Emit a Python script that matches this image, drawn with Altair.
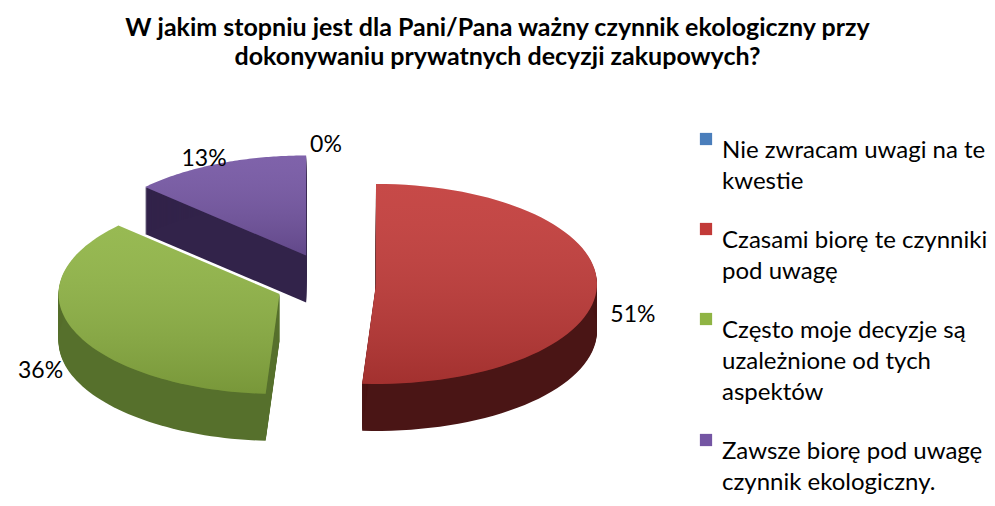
import altair as alt
import pandas as pd

title_lines = ["W jakim stopniu jest dla Pani/Pana ważny czynnik ekologiczny przy",
               "dokonywaniu prywatnych decyzji zakupowych?"]
categories = ["Nie zwracam uwagi na te kwestie",
              "Czasami biorę te czynniki pod uwagę",
              "Często moje decyzje są uzależnione od tych aspektów",
              "Zawsze biorę pod uwagę czynnik ekologiczny."]
legend_lines = [["Nie zwracam uwagi na te", "kwestie"],
                ["Czasami biorę te czynniki", "pod uwagę"],
                ["Często moje decyzje są", "uzależnione od tych", "aspektów"],
                ["Zawsze biorę pod uwagę", "czynnik ekologiczny."]]
values = [0, 51, 36, 13]
top_colors = ["#4A7EBB", "#C23A38", "#8FB444", "#7455A3"]
side_colors = ["#22405F", "#4A1515", "#56702C", "#32234A"]

df = pd.DataFrame({"cat": categories, "value": values, "idx": list(range(len(values)))})

# geometry (view pixels)
OY = 72                      # view top on the page (approx.)
OX = 8
CX, CY = 326 - OX, 279 - OY  # pie centre
RX, RY = 221, 100            # ellipse radii of the top face
EX, EY = 50, 30              # explode distance
DEPTH = 47                   # 3D thickness
N = 72                       # arc segments
LX, LY, LYOFF = 36, 35, 27   # label offsets


def lbl_expr():
    parts = []
    for c, lines in zip(categories, legend_lines):
        arr = "[" + ",".join("'" + l + "'" for l in lines) + "]"
        parts.append(f"datum.value == '{c}' ? {arr}")
    return " : ".join(parts) + " : datum.value"


base = alt.Chart(df).transform_joinaggregate(
    total="sum(value)"
).transform_window(
    cum="sum(value)", frame=[None, 0], sort=[alt.SortField("idx")]
).transform_calculate(
    t0="(datum.cum - datum.value) / datum.total * 2 * PI",
    t1="datum.cum / datum.total * 2 * PI",
).transform_calculate(
    mid="(datum.t0 + datum.t1) / 2",
).transform_calculate(
    ax=f"{CX} + {EX} * sin(datum.mid)",
    ay=f"{CY} - {EY} * cos(datum.mid)",
    pct="format(datum.value / datum.total, '.0%')",
)

poly = base.transform_filter("datum.value > 0").transform_calculate(
    k=f"sequence(0, {N + 2})"
).transform_flatten(["k"]).transform_calculate(
    ang=f"datum.t0 + (datum.k - 1) / {N} * (datum.t1 - datum.t0)",
).transform_calculate(
    px=f"datum.k == 0 ? datum.ax : datum.ax + {RX} * sin(datum.ang)",
    py=f"datum.k == 0 ? datum.ay : datum.ay - {RY} * cos(datum.ang)",
)

side = poly.transform_calculate(
    d=f"sequence(1, {DEPTH + 1})"
).transform_flatten(["d"]).transform_calculate(
    pyd="datum.py + datum.d"
).mark_line(filled=True, strokeWidth=0).encode(
    x=alt.X("px:Q", scale=None, axis=None),
    y=alt.Y("pyd:Q", scale=None, axis=None),
    order=alt.Order("k:Q"),
    detail=alt.Detail("d:Q"),
    color=alt.Color("cat:N", scale=alt.Scale(domain=categories, range=side_colors), legend=None),
)

top = poly.mark_line(filled=True, strokeWidth=0).encode(
    x=alt.X("px:Q", scale=None, axis=None),
    y=alt.Y("py:Q", scale=None, axis=None),
    order=alt.Order("k:Q"),
    color=alt.Color("cat:N", scale=alt.Scale(domain=categories, range=top_colors),
                    legend=alt.Legend(title=None, orient="none", legendX=686, legendY=51,
                                      symbolType="square", symbolSize=150, symbolStrokeWidth=0,
                                      labelFont="Lato", labelFontSize=24, labelColor="#000000",
                                      labelBaseline="top", labelOffset=4, labelLimit=400,
                                      rowPadding=23, labelExpr=lbl_expr())),
)

shade = poly.mark_line(
    filled=True, strokeWidth=0,
    fill=alt.Gradient(gradient="linear", x1=0, y1=0, x2=0, y2=1,
                      stops=[alt.GradientStop(color="rgba(255,255,255,0.08)", offset=0),
                             alt.GradientStop(color="rgba(0,0,0,0.16)", offset=1)]),
).encode(
    x=alt.X("px:Q", scale=None, axis=None),
    y=alt.Y("py:Q", scale=None, axis=None),
    order=alt.Order("k:Q"),
    detail=alt.Detail("cat:N"),
)

labels = base.transform_calculate(
    lx=f"datum.ax + {RX + LX} * sin(datum.mid)",
    ly=f"datum.ay - {RY + LY} * cos(datum.mid) + {LYOFF}",
).mark_text(font="Lato", fontSize=23, color="#000000", baseline="middle", align="center").encode(
    x=alt.X("lx:Q", scale=None, axis=None),
    y=alt.Y("ly:Q", scale=None, axis=None),
    text="pct:N",
)

chart = alt.layer(side, top, shade, labels).resolve_scale(color="independent").properties(
    width=979, height=490,
    autosize=alt.AutoSizeParams(type="fit", contains="padding"),
    padding={"top": 8, "left": 0, "right": 0, "bottom": 0},
    title=alt.TitleParams(text=title_lines, font="Lato", fontSize=25, fontWeight="bold",
                          lineHeight=29, anchor="middle", color="#000000", offset=6),
).configure(style={"guide-label": {"lineHeight": 31}}).configure_view(stroke=None)

chart.save("out.html", embed_options={"renderer": "svg", "actions": False})
